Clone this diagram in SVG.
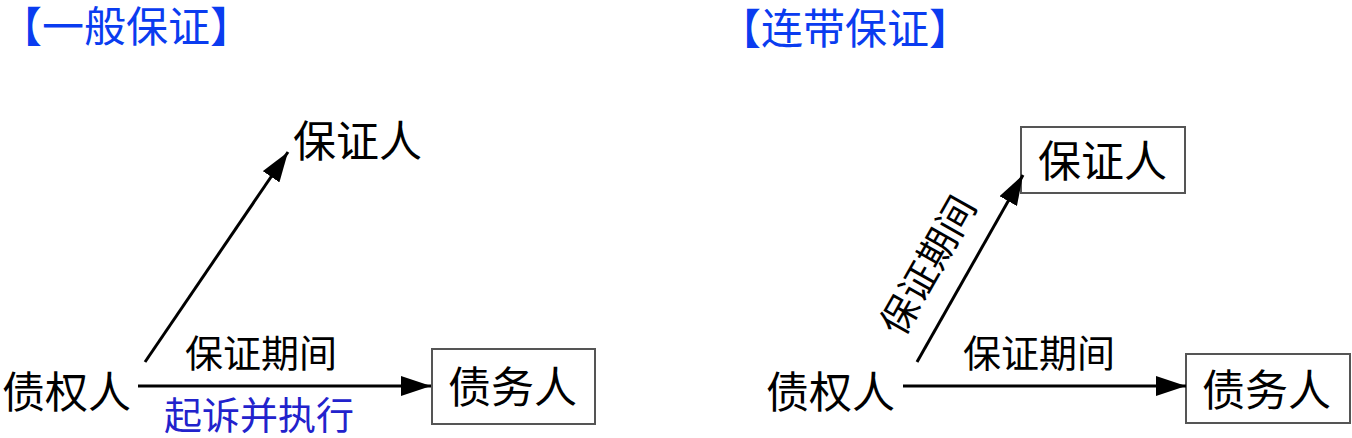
<svg xmlns="http://www.w3.org/2000/svg" width="1352" height="438" viewBox="0 0 1352 438">
<defs>
<marker id="ah" markerWidth="30" markerHeight="20" refX="30" refY="10" orient="auto" markerUnits="userSpaceOnUse">
<path d="M0,0 L30,10 L0,20 Z" fill="#000"/>
</marker>
<style>
text{font-family:"Liberation Sans","Noto Sans CJK SC","Noto Sans CJK TC",sans-serif;fill:#000}
.title{font-size:42px;fill:#0a3cf0}
.lbl{font-size:43px}
.sm{font-size:38px}
.blue{font-size:38px;fill:#2222cc}
.box{fill:#fff;stroke:#555;stroke-width:2}
.conn line{stroke:#000;stroke-width:3;marker-end:url(#ah)}
</style>
</defs>
<rect width="1352" height="438" fill="#fff"/>
<text class="title" x="0" y="42">【一般保证】</text>
<text class="title" x="719" y="44">【连带保证】</text>

<g id="left-guarantor"><text class="lbl" x="293" y="157">保证人</text></g>
<g id="left-creditor"><text class="lbl" x="2" y="408">债权人</text></g>
<g id="left-debtor"><rect class="box" x="432" y="349" width="163" height="75"/><text class="lbl" x="448" y="403">债务人</text></g>

<g id="right-guarantor"><rect class="box" x="1021" y="127" width="164" height="66"/><text class="lbl" x="1038" y="177">保证人</text></g>
<g id="right-creditor"><text class="lbl" x="766" y="408">债权人</text></g>
<g id="right-debtor"><rect class="box" x="1186" y="354" width="164" height="69"/><text class="lbl" x="1202" y="406">债务人</text></g>

<g class="conn">
<line x1="145" y1="362" x2="288" y2="152"/>
<line x1="138" y1="386" x2="431" y2="386"/>
<line x1="917" y1="362" x2="1023" y2="175"/>
<line x1="903" y1="386" x2="1186" y2="386"/>
</g>
<g id="labels">
<text class="sm" x="185" y="367">保证期间</text>
<text class="blue" x="164" y="429">起诉并执行</text>
<text class="sm" x="963" y="367">保证期间</text>
<text class="sm" text-anchor="middle" transform="translate(940,272) rotate(-60.5)">保证期间</text>
</g>
</svg>
